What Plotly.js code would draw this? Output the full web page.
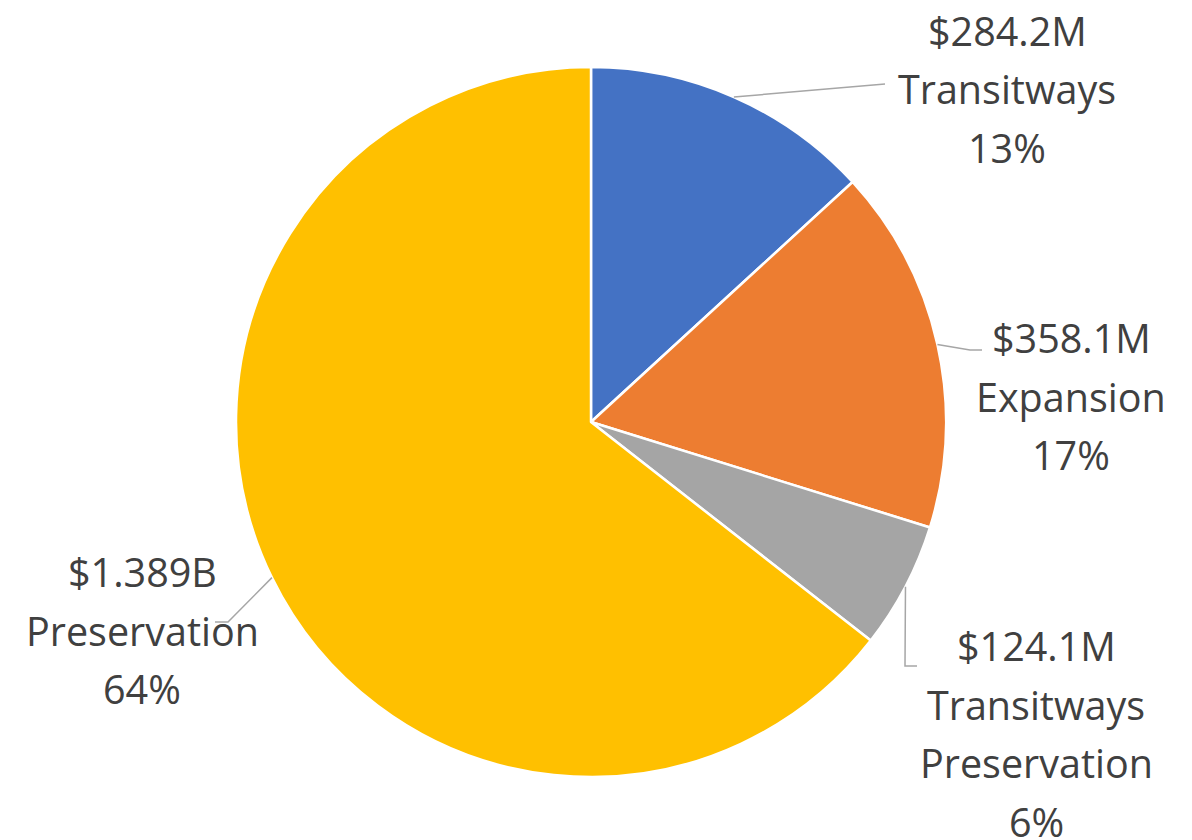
<!DOCTYPE html>
<html>
<head>
<meta charset="utf-8">
<script src="https://cdn.plot.ly/plotly-3.0.1.min.js"></script>
<style>html,body{margin:0;padding:0;background:#fff;}#chart{width:1192px;height:840px;}</style>
</head>
<body>
<div id="chart"></div>
<script>
// ---- data ----
const categories = ["Transitways", "Expansion", "Transitways Preservation", "Preservation"];
const amounts = [284.2, 358.1, 124.1, 1389.0];           // $ millions
const amountLabels = ["$284.2M", "$358.1M", "$124.1M", "$1.389B"];
const labelLines = [["Transitways"], ["Expansion"], ["Transitways", "Preservation"], ["Preservation"]];
const colors = ["#4472C4", "#ED7D31", "#A5A5A5", "#FFC000"];

// ---- layout constants (pixels) ----
const W = 1192, H = 840;
const CX = 591, CY = 422, R = 355;
const LINE_H = 58.5;
// label placement: centre x, first-line y, leader elbow / end points
const place = [
  {x: 1007, y: 31,  path: (a) => [[a[0], a[1]], [885, 84]]},
  {x: 1071, y: 338, path: (a) => [[a[0], a[1]], [970, 350], [982, 350]]},
  {x: 1036, y: 646, path: (a) => [[a[0], a[1]], [905, 666], [917, 666]]},
  {x: 142,  y: 572, path: (a) => [[a[0], a[1]], [228, 622], [215, 622]]}
];

const px = (x) => x / W;
const py = (y) => 1 - y / H;

const total = amounts.reduce((s, v) => s + v, 0);
const pct = amounts.map(v => Math.round(v / total * 100) + "%");

// anchor points at mid-angle of each slice (clockwise from 12 o'clock)
let cum = 0;
const anchors = amounts.map(v => {
  const mid = (cum + v / 2) / total * 2 * Math.PI;
  cum += v;
  return [CX + R * Math.sin(mid), CY - R * Math.cos(mid)];
});

const annotations = [];
const shapes = [];
const font = {family: "Open Sans, Noto Sans, sans-serif", size: 39.5, color: "#404040"};
categories.forEach((c, i) => {
  const lines = [amountLabels[i], ...labelLines[i], pct[i]];
  lines.forEach((t, k) => {
    annotations.push({
      text: t, x: px(place[i].x), y: py(place[i].y + k * LINE_H),
      xref: "paper", yref: "paper", xanchor: "center", yanchor: "middle",
      showarrow: false, font: font
    });
  });
  const pts = place[i].path(anchors[i]);
  const d = pts.map((p, k) => (k ? "L" : "M") + px(p[0]) + "," + py(p[1])).join(" ");
  shapes.push({type: "path", path: d, xref: "paper", yref: "paper",
    line: {color: "#A6A6A6", width: 1.5}});
});

const trace = {
  type: "pie",
  labels: categories,
  values: amounts,
  sort: false,
  direction: "clockwise",
  rotation: 0,
  textinfo: "none",
  hoverinfo: "label+value+percent",
  marker: {colors: colors, line: {color: "#FFFFFF", width: 2.5}},
  domain: {x: [px(CX - R), px(CX + R)], y: [py(CY + R), py(CY - R)]},
  showlegend: false
};

Plotly.newPlot("chart", [trace], {
  width: W, height: H,
  margin: {l: 0, r: 0, t: 0, b: 0},
  paper_bgcolor: "#FFFFFF",
  showlegend: false,
  annotations: annotations,
  shapes: shapes
}, {displayModeBar: false, staticPlot: true});
</script>
</body>
</html>
